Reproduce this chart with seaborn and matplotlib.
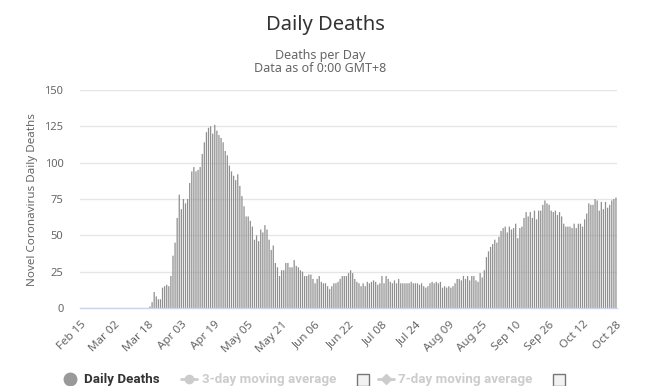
import matplotlib
matplotlib.use("Agg")
import matplotlib.pyplot as plt
import pandas as pd
import seaborn as sns
from matplotlib.lines import Line2D
from matplotlib.patches import Rectangle

# ---------------- data ----------------
start_date = "2020-02-15"
end_date = "2020-10-28"

feb_deaths = [0, 0, 0, 0, 0, 0, 0, 0, 0, 0, 0, 0, 0, 0, 0]
mar_deaths = [0, 0, 0, 0, 0, 0, 0, 0, 0, 0, 0, 0, 0, 0, 0, 0, 0, 0,
              1, 4, 11, 8, 6, 6, 14, 15, 16, 15, 22, 36, 45]
apr_deaths = [62, 78, 68, 75, 72, 75, 86, 94, 97, 94,
              95, 97, 106, 114, 121, 124, 125, 120, 126, 122,
              119, 117, 114, 108, 105, 98, 94, 91, 88, 92]
may_deaths = [84, 77, 70, 63, 63, 60, 56, 47, 50, 46,
              54, 52, 57, 54, 47, 40, 43, 31, 28, 22,
              26, 26, 31, 31, 28, 28, 33, 29, 28, 26, 25]
jun_deaths = [22, 22, 23, 23, 20, 17, 20, 22, 18, 17,
              17, 15, 13, 15, 17, 17, 18, 20, 22, 22,
              22, 24, 26, 24, 20, 18, 17, 15, 17, 15]
jul_deaths = [18, 17, 18, 19, 18, 16, 17, 22, 17, 22,
              20, 18, 17, 19, 17, 20, 17, 17, 17, 17,
              17, 18, 17, 17, 17, 16, 17, 15, 14, 15, 17]
aug_deaths = [18, 17, 18, 17, 18, 14, 15, 14, 15, 14,
              15, 17, 20, 20, 19, 22, 20, 22, 19, 22,
              22, 19, 18, 24, 21, 26, 35, 39, 42, 44, 47]
sep_deaths = [45, 49, 53, 55, 56, 52, 56, 54, 55, 58,
              48, 55, 56, 62, 66, 63, 66, 62, 67, 61,
              67, 67, 71, 74, 72, 71, 67, 66, 67, 64]
oct_deaths = [66, 63, 58, 56, 56, 56, 55, 58, 55, 58,
              58, 56, 61, 65, 72, 71, 71, 75, 74, 67,
              73, 68, 73, 69, 71, 74, 75, 76]

y_ticks = [0, 25, 50, 75, 100, 125, 150]
title = "Daily Deaths"
subtitle_1 = "Deaths per Day"
subtitle_2 = "Data as of 0:00 GMT+8"
y_label = "Novel Coronavirus Daily Deaths"
legend_labels = ["Daily Deaths", "3-day moving average", "7-day moving average"]

dates = pd.date_range(start_date, end_date, freq="D")
date_labels = [d.strftime("%b %d") for d in dates]
deaths = (feb_deaths + mar_deaths + apr_deaths + may_deaths + jun_deaths
          + jul_deaths + aug_deaths + sep_deaths + oct_deaths)
df = pd.DataFrame({"date": date_labels, "deaths": deaths})

# ---------------- style ----------------
sns.set_theme(style="white")
plt.rcParams["font.family"] = ["Noto Sans", "DejaVu Sans"]

W, H = 650, 386
fig = plt.figure(figsize=(W / 100, H / 100), dpi=100)
L, R, T, B = 80, 617, 90, 308
ax = fig.add_axes([L / W, 1 - B / H, (R - L) / W, (B - T) / H])

sns.barplot(data=df, x="date", y="deaths", color="#999999", saturation=1,
            width=0.6, linewidth=0, ax=ax)
for p in ax.patches:
    p.set_snap(False)
    p.set_facecolor("#8f8f8f")

ax.set_xlim(-0.5, len(deaths) - 0.5)
ax.set_ylim(0, 150)
ax.set_yticks(y_ticks)
ax.set_yticklabels([str(v) for v in y_ticks], color="#666666", fontsize=8)
tick_pos = list(range(0, len(date_labels), 16))
ax.set_xticks(tick_pos)
ax.set_xticklabels([date_labels[i] for i in tick_pos], rotation=45, ha="right",
                   rotation_mode="anchor", color="#666666", fontsize=8.3)
ax.tick_params(axis="x", length=0, pad=8)
ax.tick_params(axis="y", length=0, pad=12)
ax.set_xlabel("")
ax.set_ylabel("")
ax.yaxis.grid(True, color="#e6e6e6", linewidth=1)
ax.set_axisbelow(True)
for s in ["top", "right", "left"]:
    ax.spines[s].set_visible(False)
ax.spines["bottom"].set_color("#ccd6eb")
ax.spines["bottom"].set_linewidth(1)

# titles
fig.text(0.5, 1 - 25 / H, title, ha="center", va="center", fontsize=14.5, color="#333333")
fig.text(0.492, 1 - 55 / H, subtitle_1, ha="center", va="center", fontsize=9, color="#666666")
fig.text(0.492, 1 - 69 / H, subtitle_2, ha="center", va="center", fontsize=9, color="#666666")
fig.text(33 / W, 1 - 200 / H, y_label, rotation=90, ha="center", va="center",
         fontsize=8.4, color="#666666")

# legend
ly = 1 - 379 / H
lfont = dict(fontsize=9.6, fontweight="bold", family=["Roboto", "DejaVu Sans"])
fig.add_artist(Line2D([70 / W], [ly], marker="o", markersize=9, color="#999999",
                      transform=fig.transFigure))
fig.text(84 / W, ly, legend_labels[0], ha="left", va="center", color="#333333", **lfont)
fig.add_artist(Line2D([181 / W, 197 / W], [ly, ly], marker=None, lw=2, color="#cccccc",
                      transform=fig.transFigure))
fig.add_artist(Line2D([189 / W], [ly], marker="o", markersize=6, color="#cccccc",
                      transform=fig.transFigure))
fig.text(202 / W, ly, legend_labels[1], ha="left", va="center", color="#cccccc", **lfont)
fig.add_artist(Line2D([378 / W, 394 / W], [ly, ly], marker=None, lw=2, color="#cccccc",
                      transform=fig.transFigure))
fig.add_artist(Line2D([386 / W], [ly], marker="D", markersize=5, color="#cccccc",
                      transform=fig.transFigure))
fig.text(398 / W, ly, legend_labels[2], ha="left", va="center", color="#cccccc", **lfont)
for cx in (357, 553):
    fig.add_artist(Rectangle((cx / W, 1 - 386 / H), 12 / W, 12 / H, transform=fig.transFigure,
                             facecolor="#f2f2f2", edgecolor="#777777", linewidth=1))

fig.savefig("out.png", dpi=100)
